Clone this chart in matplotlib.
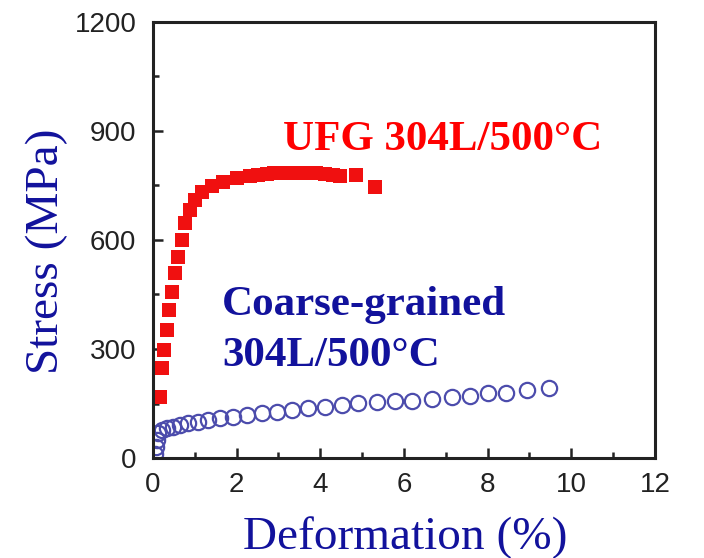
import numpy as np
import matplotlib.pyplot as plt
from matplotlib.ticker import MultipleLocator

# UFG 304L/500°C (filled red squares)
ufg_strain = [0.17, 0.21, 0.27, 0.33, 0.39, 0.45, 0.53, 0.60, 0.69, 0.76, 0.88, 1.0,
              1.17, 1.41, 1.67, 2.0, 2.32, 2.52, 2.72, 2.9, 3.1, 3.3, 3.5, 3.7, 3.9,
              4.1, 4.3, 4.46, 4.85, 5.3]
ufg_stress = [168, 248, 297, 352, 407, 457, 509, 553, 600, 647, 682, 710,
              732, 749, 760, 771, 776, 779, 782, 784, 784, 784, 784, 784, 784,
              782, 779, 776, 779, 746]

# Coarse-grained 304L/500°C (open blue circles)
cg_strain = [0.05, 0.08, 0.10, 0.12, 0.21, 0.33, 0.48, 0.64, 0.84, 1.07, 1.31, 1.6,
             1.91, 2.24, 2.6, 2.96, 3.32, 3.7, 4.1, 4.51, 4.89, 5.35, 5.78, 6.18,
             6.66, 7.14, 7.57, 8.02, 8.45, 8.93, 9.47]
cg_stress = [10, 30, 50, 69, 77, 83, 85, 91, 96, 99, 105, 110,
             113, 118, 124, 127, 132, 138, 140, 146, 151, 154, 157, 157,
             162, 168, 171, 179, 179, 187, 193]

navy = "#12129c"
serif = ["Liberation Serif", "DejaVu Serif"]
sans = ["Liberation Sans", "DejaVu Sans"]

fig = plt.figure(figsize=(7.04, 5.58), dpi=100)
ax = fig.add_axes([0.2173, 0.1792, 0.7131, 0.7814])

ax.plot(cg_strain, cg_stress, linestyle="none", marker="o", markersize=11,
        markerfacecolor="none", markeredgecolor="#4c4cac", markeredgewidth=1.6)
ax.plot(ufg_strain, ufg_stress, linestyle="none", marker="s", markersize=10,
        color="#f01010", markeredgewidth=0)

ax.set_xlim(0, 12)
ax.set_ylim(0, 1200)
ax.xaxis.set_major_locator(MultipleLocator(2))
ax.xaxis.set_minor_locator(MultipleLocator(1))
ax.yaxis.set_major_locator(MultipleLocator(300))
ax.yaxis.set_minor_locator(MultipleLocator(150))
ax.tick_params(which="both", direction="in", top=False, right=False, color="#222222", width=1.8)
ax.tick_params(which="major", length=7)
ax.tick_params(which="minor", length=4)
ax.tick_params(axis="y", pad=12)
ax.tick_params(axis="x", pad=10)
for lab in ax.get_xticklabels() + ax.get_yticklabels():
    lab.set_family(sans)
    lab.set_fontsize(20)
    lab.set_color("#222222")
for sp in ax.spines.values():
    sp.set_linewidth(2.2)
    sp.set_color("#222222")

ax.set_xlabel("Deformation (%)", family=serif, fontsize=34, color=navy)
ax.set_ylabel("Stress (MPa)", family=serif, fontsize=34, color=navy)
ax.xaxis.set_label_coords(0.503, -0.134)
ax.yaxis.set_label_coords(-0.17, 0.475)

ax.text(3.1, 848, "UFG 304L/500°C", family=serif, fontweight="bold", fontsize=31,
        color="#ff0000", va="baseline")
ax.text(1.65, 393, "Coarse-grained", family=serif, fontweight="bold", fontsize=31,
        color=navy, va="baseline")
ax.text(1.65, 253, "304L/500°C", family=serif, fontweight="bold", fontsize=31,
        color=navy, va="baseline")

fig.savefig("out.png", dpi=100)
